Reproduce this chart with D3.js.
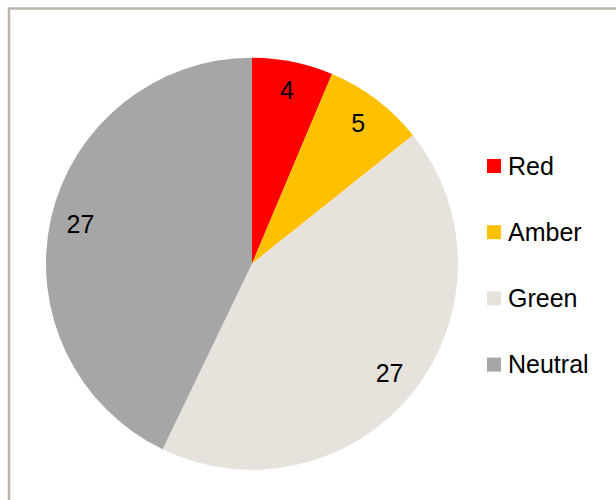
<!DOCTYPE html>
<html>
<head>
<meta charset="utf-8">
<script src="https://cdn.jsdelivr.net/npm/d3@7"></script>
<style>
html,body{margin:0;padding:0;background:#fff;}
svg{display:block;}
text{font-family:Arial,"Liberation Sans",sans-serif;}
</style>
</head>
<body>
<svg id="chart" width="616" height="500"></svg>
<script>
const categories = ["Red", "Amber", "Green", "Neutral"];
const values = [4, 5, 27, 27];
const colors = ["#FF0000", "#FFC000", "#E7E3DC", "#A6A6A6"];

const svg = d3.select("#chart");

// frame
svg.append("rect")
  .attr("x", 9).attr("y", 8.5)
  .attr("width", 700).attr("height", 600)
  .attr("fill", "none")
  .attr("stroke", "#BCB4AB")
  .attr("stroke-width", 2.5);

const cx = 252, cy = 263.7, r = 206;
const data = categories.map((c, i) => ({cat: c, value: values[i], color: colors[i]}));
const pie = d3.pie().value(d => d.value).sort(null);
const arcs = pie(data);
const arc = d3.arc().innerRadius(0).outerRadius(r);
const labelArc = d3.arc().innerRadius(176).outerRadius(176);

const g = svg.append("g").attr("transform", `translate(${cx},${cy})`);
g.selectAll("path").data(arcs).join("path")
  .attr("d", arc)
  .attr("fill", d => d.data.color);

g.selectAll("text.lbl").data(arcs).join("text")
  .attr("class", "lbl")
  .attr("transform", d => `translate(${labelArc.centroid(d)})`)
  .attr("text-anchor", "middle")
  .attr("dy", "0.33em")
  .attr("font-size", 25)
  .attr("fill", "#000")
  .text(d => d.data.value);

// legend
const legend = svg.append("g").attr("transform", "translate(487,166)");
const item = legend.selectAll("g").data(data).join("g")
  .attr("transform", (d, i) => `translate(0,${i * 66.2})`);
item.append("rect")
  .attr("x", 0).attr("y", -7)
  .attr("width", 14).attr("height", 14)
  .attr("fill", d => d.color);
item.append("text")
  .attr("x", 21).attr("y", 0)
  .attr("dy", "0.35em")
  .attr("font-size", 25)
  .attr("fill", "#000")
  .text(d => d.cat);
</script>
</body>
</html>
